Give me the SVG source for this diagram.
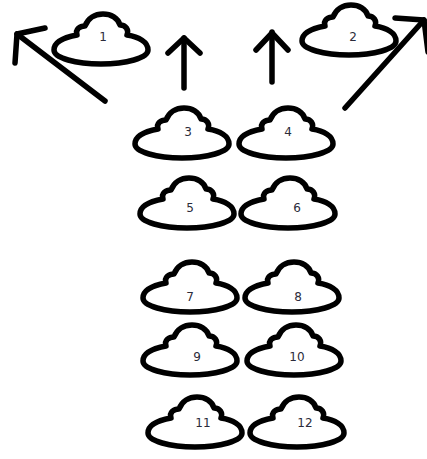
<svg xmlns="http://www.w3.org/2000/svg" xmlns:xlink="http://www.w3.org/1999/xlink" width="427" height="459" viewBox="0 0 427 459">
  <style>
    .ufo { fill: #ffffff; stroke: #000000; stroke-width: 5.5; stroke-linejoin: round; }
    .num { font-family: "DejaVu Sans", "Liberation Sans", sans-serif; font-size: 12px; fill: #2b2b3a; text-anchor: middle; }
    .arrow { fill: none; stroke: #000000; stroke-width: 5.5; stroke-linecap: round; stroke-linejoin: round; }
  </style>
  <defs>
    <!-- saucer outline, origin at the centre of the disc -->
    <path id="saucer" class="ufo" d="M -47 1 C -47 -8 -35 -12 -24 -14 C -26 -20 -21 -23 -16 -23 C -13 -31 -6 -35 2 -35 C 10 -35 17 -31 19 -24 C 25 -24 28 -19 26 -14 C 38 -12 47 -7 47 1 C 47 9 25 15 0 15 C -25 15 -47 9 -47 1 Z"/>
  </defs>

  <g id="connectors">
    <line class="arrow" x1="105" y1="101" x2="17" y2="34"/>
    <polyline class="arrow" points="15,63 17,34 45,28"/>
    <line class="arrow" x1="184" y1="88" x2="184" y2="38"/>
    <polyline class="arrow" points="168,53 184,38 200,53"/>
    <line class="arrow" x1="272" y1="82" x2="272" y2="32"/>
    <polyline class="arrow" points="256,50 272,33 288,50"/>
    <line class="arrow" x1="345" y1="108" x2="424" y2="20"/>
    <polyline class="arrow" points="395,18 424,20 428,52"/>
  </g>

  <g id="node1"><use xlink:href="#saucer" x="101" y="49"/><text class="num" x="103" y="41">1</text></g>
  <g id="node2"><use xlink:href="#saucer" x="349" y="40"/><text class="num" x="353" y="41">2</text></g>
  <g id="node3"><use xlink:href="#saucer" x="182" y="143"/><text class="num" x="188" y="136">3</text></g>
  <g id="node4"><use xlink:href="#saucer" x="286" y="143"/><text class="num" x="288" y="136">4</text></g>
  <g id="node5"><use xlink:href="#saucer" x="187" y="213"/><text class="num" x="190" y="212">5</text></g>
  <g id="node6"><use xlink:href="#saucer" x="288" y="213"/><text class="num" x="297" y="212">6</text></g>
  <g id="node7"><use xlink:href="#saucer" x="190" y="297"/><text class="num" x="190" y="301">7</text></g>
  <g id="node8"><use xlink:href="#saucer" x="292" y="297"/><text class="num" x="298" y="301">8</text></g>
  <g id="node9"><use xlink:href="#saucer" x="190" y="360"/><text class="num" x="197" y="361">9</text></g>
  <g id="node10"><use xlink:href="#saucer" x="294" y="360"/><text class="num" x="297" y="361">10</text></g>
  <g id="node11"><use xlink:href="#saucer" x="195" y="432"/><text class="num" x="203" y="427">11</text></g>
  <g id="node12"><use xlink:href="#saucer" x="297" y="432"/><text class="num" x="305" y="427">12</text></g>
</svg>
